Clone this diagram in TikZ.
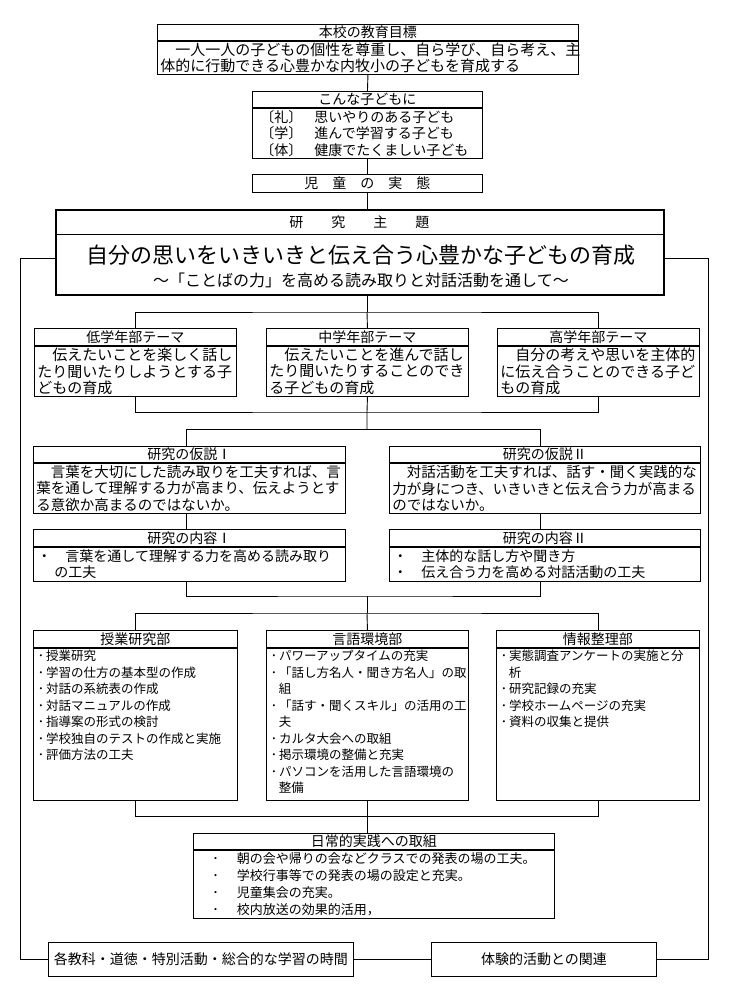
\documentclass[tikz,border=0pt]{standalone}
\usepackage{fontspec}
\setmainfont{Noto Sans CJK JP}
\usepackage{tikz}

\begin{document}
\begin{tikzpicture}[x=1pt,y=-1pt,line width=0.9pt]
\tikzstyle{box}=[draw,anchor=north west,inner sep=0pt];
\tikzstyle{head}=[box,font=\fontsize{14}{16}\selectfont];
\tikzstyle{body}=[box,inner xsep=3pt,align=left];
\tikzstyle{dept}=[box,inner xsep=1.5pt,font=\fontsize{12.5}{16.5}\selectfont];

\fill[white] (0,0) rectangle (736,999);

\node[head,minimum width=421pt,minimum height=16pt] (goalT) at (157,24) {本校の教育目標};
\node[body,text width=415pt,minimum height=33pt,font=\fontsize{15}{16.5}\selectfont] (goal) at (goalT.south west)
	{　一人一人の子どもの個性を尊重し、自ら学び、自ら考え、主\\体的に行動できる心豊かな内牧小の子どもを育成する};

\node[head,minimum width=230pt,minimum height=16pt] (kidsT) at (252,91) {こんな子どもに};
\node[body,text width=224pt,minimum height=50pt,font=\fontsize{14}{16.5}\selectfont] (kids) at (kidsT.south west)
	{\hspace*{5pt}〔礼〕\hspace{12pt}思いやりのある子ども\\
	\hspace*{5pt}〔学〕\hspace{12pt}進んで学習する子ども\\
	\hspace*{5pt}〔体〕\hspace{12pt}健康でたくましい子ども};

\node[head,minimum width=230pt,minimum height=18pt] (real) at (252,174) {児　童　の　実　態};

\node[box,line width=2.4pt,minimum width=608pt,minimum height=85pt] (theme) at (55,209) {};
\node[head,draw=none,minimum width=608pt,minimum height=25pt] (themeT) at (theme.north west) {研　　究　　主　　題};
\draw (themeT.south west) -- (themeT.south east);
\node[font=\fontsize{22}{24}\selectfont] (title) at (361,255) {自分の思いをいきいきと伝え合う心豊かな子どもの育成};
\node[font=\fontsize{16}{18}\selectfont] (subtitle) at (361,280) {～「ことばの力」を高める読み取りと対話活動を通して～};

\node[head,minimum width=202pt,minimum height=17pt] (lowT) at (34,328) {低学年部テーマ};
\node[body,text width=196pt,minimum height=50pt,font=\fontsize{15}{16.7}\selectfont] (low) at (lowT.south west)
	{　伝えたいことを楽しく話し\\たり聞いたりしようとする子\\どもの育成};
\node[head,minimum width=202pt,minimum height=17pt] (midT) at (266,328) {中学年部テーマ};
\node[body,text width=196pt,minimum height=50pt,font=\fontsize{15}{16.7}\selectfont] (mid) at (midT.south west)
	{　伝えたいことを進んで話し\\たり聞いたりすることのでき\\る子どもの育成};
\node[head,minimum width=202pt,minimum height=17pt] (highT) at (497,328) {高学年部テーマ};
\node[body,text width=196pt,minimum height=50pt,font=\fontsize{15}{16.7}\selectfont] (high) at (highT.south west)
	{　自分の考えや思いを主体的\\に伝え合うことのできる子ど\\もの育成};

\node[head,minimum width=312pt,minimum height=16pt] (hypAT) at (33,446) {研究の仮説Ⅰ};
\node[body,text width=306pt,minimum height=50pt,font=\fontsize{14.5}{16.7}\selectfont] (hypA) at (hypAT.south west)
	{　言葉を大切にした読み取りを工夫すれば、言\\葉を通して理解する力が高まり、伝えようとす\\る意欲か高まるのではないか。};
\node[head,minimum width=311pt,minimum height=16pt] (hypBT) at (389,446) {研究の仮説Ⅱ};
\node[body,text width=305pt,minimum height=50pt,font=\fontsize{14.5}{16.7}\selectfont] (hypB) at (hypBT.south west)
	{　対話活動を工夫すれば、話す・聞く実践的な\\力が身につき、いきいきと伝え合う力が高まる\\のではないか。};

\node[head,minimum width=312pt,minimum height=17pt] (conAT) at (33,529) {研究の内容Ⅰ};
\node[body,text width=306pt,minimum height=34pt,font=\fontsize{14}{16.5}\selectfont] (conA) at (conAT.south west)
	{\hspace*{1pt}・\hspace{14pt}言葉を通して理解する力を高める読み取り\\\hspace*{18pt}の工夫};
\node[head,minimum width=311pt,minimum height=17pt] (conBT) at (389,529) {研究の内容Ⅱ};
\node[body,text width=305pt,minimum height=34pt,font=\fontsize{14}{16.5}\selectfont] (conB) at (conBT.south west)
	{\hspace*{1pt}・\hspace{14pt}主体的な話し方や聞き方\\\hspace*{1pt}・\hspace{14pt}伝え合う力を高める対話活動の工夫};

\node[head,minimum width=204pt,minimum height=17pt] (lesT) at (33,630) {授業研究部};
\node[dept,minimum width=204pt,minimum height=152pt] (les) at (lesT.south west)
	{\parbox[c][148pt][t]{201pt}{%
	\hspace*{3pt}･\hspace{2pt}授業研究\\
	\hspace*{3pt}･\hspace{2pt}学習の仕方の基本型の作成\\
	\hspace*{3pt}･\hspace{2pt}対話の系統表の作成\\
	\hspace*{3pt}･\hspace{2pt}対話マニュアルの作成\\
	\hspace*{3pt}･\hspace{2pt}指導案の形式の検討\\
	\hspace*{3pt}･\hspace{2pt}学校独自のテストの作成と実施\\
	\hspace*{3pt}･\hspace{2pt}評価方法の工夫}};
\node[head,minimum width=202pt,minimum height=17pt] (envT) at (266,630) {言語環境部};
\node[dept,minimum width=202pt,minimum height=152pt] (env) at (envT.south west)
	{\parbox[c][148pt][t]{199pt}{%
	\hspace*{3pt}･\hspace{2pt}パワーアップタイムの充実\\
	\hspace*{3pt}･\hspace{2pt}「話し方名人・聞き方名人」の取\\
	\hspace*{11pt}組\\
	\hspace*{3pt}･\hspace{2pt}「話す・聞くスキル」の活用の工\\
	\hspace*{11pt}夫\\
	\hspace*{3pt}･\hspace{2pt}カルタ大会への取組\\
	\hspace*{3pt}･\hspace{2pt}掲示環境の整備と充実\\
	\hspace*{3pt}･\hspace{2pt}パソコンを活用した言語環境の\\
	\hspace*{11pt}整備}};
\node[head,minimum width=203pt,minimum height=17pt] (infT) at (496,630) {情報整理部};
\node[dept,minimum width=203pt,minimum height=152pt] (inf) at (infT.south west)
	{\parbox[c][148pt][t]{200pt}{%
	\hspace*{3pt}･\hspace{2pt}実態調査アンケートの実施と分\\
	\hspace*{11pt}析\\
	\hspace*{3pt}･\hspace{2pt}研究記録の充実\\
	\hspace*{3pt}･\hspace{2pt}学校ホームページの充実\\
	\hspace*{3pt}･\hspace{2pt}資料の収集と提供}};

\node[head,minimum width=361pt,minimum height=16pt] (dailyT) at (193,833) {日常的実践への取組};
\node[body,text width=355pt,minimum height=68pt,font=\fontsize{13}{17}\selectfont] (daily) at (dailyT.south west)
	{\hspace*{16pt}･\hspace{18pt}朝の会や帰りの会などクラスでの発表の場の工夫。\\
	\hspace*{16pt}･\hspace{18pt}学校行事等での発表の場の設定と充実。\\
	\hspace*{16pt}･\hspace{18pt}児童集会の充実。\\
	\hspace*{16pt}･\hspace{18pt}校内放送の効果的活用，};

\node[box,minimum width=305pt,minimum height=34pt,font=\fontsize{14}{16}\selectfont] (subj) at (48,942) {各教科・道徳・特別活動・総合的な学習の時間};
\node[box,minimum width=225pt,minimum height=34pt,font=\fontsize{14}{16}\selectfont] (exp) at (431,942) {体験的活動との関連};

\coordinate (f1) at (367,312);
\coordinate (f2) at (367,412);
\coordinate (f3) at (367,429);
\coordinate (ha) at (186,429);
\coordinate (hb) at (540,429);
\coordinate (f4) at (367,596);
\coordinate (f5) at (367,613);
\coordinate (f6) at (367,816);
\coordinate (lc) at (20,258);
\coordinate (rc) at (708,258);

\draw (goal.south) -- (kidsT.north);
\draw (kids.south) -- (real.north);
\draw (real.south) -- (real.south |- theme.north);
\draw (f1 |- theme.south) -- (f1);
\draw (lowT.north) |- (f1) -| (highT.north);
\draw (f1) -- (midT.north);
\draw (low.south) |- (f2) -| (high.south);
\draw (mid.south) -- (f2) -- (f3);
\draw (ha |- hypAT.north) -- (ha) -- (hb) -- (hb |- hypBT.north);
\draw (ha |- hypA.south) -- (ha |- conAT.north);
\draw (hb |- hypB.south) -- (hb |- conBT.north);
\draw (ha |- conA.south) |- (f4) -| (hb |- conB.south);
\draw (f4) -- (f5);
\draw (lesT.north) |- (f5) -| (infT.north);
\draw (f5) -- (envT.north);
\draw (les.south) |- (f6) -| (inf.south);
\draw (env.south) -- (env.south |- dailyT.north);
\draw (theme.west |- lc) -- (lc) |- (subj.west);
\draw (theme.east |- rc) -- (rc) |- (exp.east);
\draw (subj.east) -- (exp.west);
\end{tikzpicture}
\end{document}
